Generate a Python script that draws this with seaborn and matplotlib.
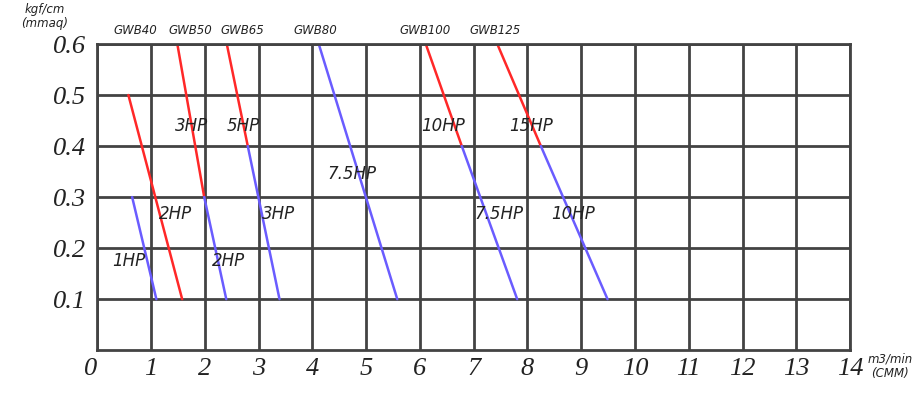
import pandas as pd
import matplotlib.pyplot as plt
import matplotlib.transforms as mtransforms
import seaborn as sns

# Pump models shown along the top of the chart
models = ['GWB40', 'GWB50', 'GWB65', 'GWB80', 'GWB100', 'GWB125']
model_label_x = [0.71, 1.73, 2.70, 4.06, 6.09, 7.39]

# red (higher HP) curve for each model: flow (m3/min) and pressure
red_x = {'GWB40': [0.58, 1.58], 'GWB50': [1.49, 1.99], 'GWB65': [2.41, 2.80],
         'GWB100': [6.11, 6.78], 'GWB125': [7.44, 8.25]}
red_y = {'GWB40': [0.5, 0.1], 'GWB50': [0.6, 0.3], 'GWB65': [0.6, 0.4],
         'GWB100': [0.6, 0.4], 'GWB125': [0.6, 0.4]}

# blue (lower HP) curve for each model
blue_x = {'GWB40': [0.65, 1.10], 'GWB50': [1.99, 2.40], 'GWB65': [2.80, 3.39],
          'GWB80': [4.12, 5.58], 'GWB100': [6.78, 7.81], 'GWB125': [8.25, 9.49]}
blue_y = {'GWB40': [0.3, 0.1], 'GWB50': [0.3, 0.1], 'GWB65': [0.4, 0.1],
          'GWB80': [0.6, 0.1], 'GWB100': [0.4, 0.1], 'GWB125': [0.4, 0.1]}

# horsepower labels placed inside the grid
hp_labels = ['3HP', '5HP', '2HP', '1HP', '2HP', '3HP', '7.5HP', '10HP', '15HP', '7.5HP', '10HP']
hp_x = [1.75, 2.72, 1.45, 0.58, 2.44, 3.37, 4.73, 6.44, 8.06, 7.47, 8.85]
hp_y = [0.44, 0.44, 0.267, 0.175, 0.175, 0.267, 0.346, 0.44, 0.44, 0.267, 0.267]

x_ticks = list(range(0, 15))
y_ticks = [0.1, 0.2, 0.3, 0.4, 0.5, 0.6]

# build a long table so seaborn can draw every segment
rows = []
for m in red_x:
    for x, y in zip(red_x[m], red_y[m]):
        rows.append({'seg': m + '_red', 'kind': 'red', 'x': x, 'y': y})
for m in blue_x:
    for x, y in zip(blue_x[m], blue_y[m]):
        rows.append({'seg': m + '_blue', 'kind': 'blue', 'x': x, 'y': y})
df = pd.DataFrame(rows)

sns.set_style('white')
fig = plt.figure(figsize=(9.17, 3.93), dpi=100)
ax = fig.add_axes([0.106, 0.109, 0.821, 0.779])

grid_color = '#434343'
ax.set_xlim(0, 14)
ax.set_ylim(0, 0.6)
ax.set_xticks(x_ticks)
ax.set_yticks(y_ticks)
ax.grid(True, color=grid_color, linewidth=2.0)
ax.set_axisbelow(True)
for s in ax.spines.values():
    s.set_color(grid_color)
    s.set_linewidth(2.0)

sns.lineplot(data=df, x='x', y='y', hue='kind', units='seg', estimator=None,
             sort=False, palette={'red': '#ff2828', 'blue': '#6a5cff'},
             linewidth=1.8, legend=False, ax=ax)

tick_font = dict(family='Liberation Serif', style='italic', size=19, color='#222222')
ax.set_xticklabels([str(t) for t in x_ticks], fontdict=tick_font)
ax.set_yticklabels([f'{t:.1f}' for t in y_ticks], fontdict=tick_font)
ax.tick_params(axis='x', length=0, pad=6)
ax.tick_params(axis='y', length=0, pad=8)
ax.set_xlabel('')
ax.set_ylabel('')

# the "0" sits a little left of the corner in the original
zero_lab = ax.get_xticklabels()[0]
zero_lab.set_transform(zero_lab.get_transform() +
                       mtransforms.ScaledTranslation(-7 / 100, 0, fig.dpi_scale_trans))

for lab, x in zip(models, model_label_x):
    ax.text(x, 0.626, lab, ha='center', va='center', style='italic', fontsize=8.5,
            color='#222222', clip_on=False)

for lab, x, y in zip(hp_labels, hp_x, hp_y):
    ax.text(x, y, lab, ha='center', va='center', style='italic', fontsize=12,
            color='#222222')

fig.text(45 / 917, 1 - 17 / 393, 'kgf/cm\n(mmaq)', ha='center', va='center',
         style='italic', fontsize=8.5, color='#222222', linespacing=1.1)
fig.text(890 / 917, 1 - 366 / 393, 'm3/min\n(CMM)', ha='center', va='center',
         style='italic', fontsize=8.5, color='#222222', linespacing=1.1)

fig.savefig('out.png', dpi=100)
